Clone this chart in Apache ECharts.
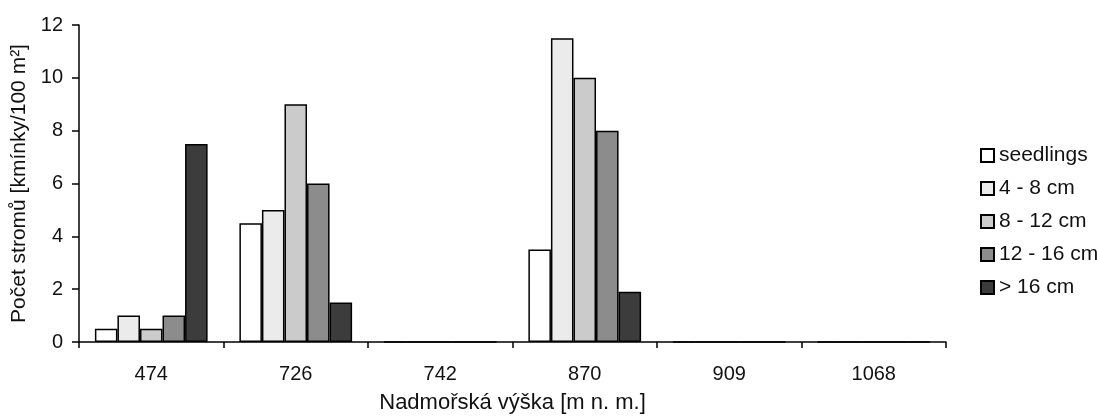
<!DOCTYPE html>
<html><head><meta charset="utf-8">
<script src="https://cdn.jsdelivr.net/npm/echarts@6/dist/echarts.min.js"></script>
<style>html,body{margin:0;padding:0;background:#fff}#c{width:1097px;height:419px}</style>
</head><body><div id="c"></div>
<script>
const categories = ['474', '726', '742', '870', '909', '1068'];
const seriesNames = ['seedlings', '4 - 8 cm', '8 - 12 cm', '12 - 16 cm', '> 16 cm'];
const seedlings = [0.5, 4.5, 0, 3.5, 0, 0];
const cm4to8 = [1.0, 5.0, 0, 11.5, 0, 0];
const cm8to12 = [0.5, 9.0, 0, 10.0, 0, 0];
const cm12to16 = [1.0, 6.0, 0, 8.0, 0, 0];
const cmOver16 = [7.5, 1.5, 0, 1.9, 0, 0];
const yTicks = [0, 2, 4, 6, 8, 10, 12];
const colors = ['#ffffff', '#ebebeb', '#cbcbcb', '#8c8c8c', '#3c3c3c'];
const seriesData = [seedlings, cm4to8, cm8to12, cm12to16, cmOver16];

const font = 'Liberation Sans, Arial, sans-serif';
const chart = echarts.init(document.getElementById('c'));
chart.setOption({
  animation: false,
  backgroundColor: '#fff',
  grid: { left: 79, right: 151, top: 25, bottom: 75 },
  legend: {
    orient: 'vertical', left: 975, top: 140,
    itemWidth: 13, itemHeight: 13, itemGap: 12,
    icon: 'rect',
    textStyle: { fontFamily: font, fontSize: 21, color: '#111' },
    data: seriesNames
  },
  xAxis: {
    type: 'category', data: categories,
    name: 'Nadmořská výška [m n. m.]', nameLocation: 'middle', nameGap: 50,
    nameTextStyle: { fontFamily: font, fontSize: 22, color: '#111' },
    axisLine: { lineStyle: { color: '#000', width: 1.5 } },
    axisTick: { show: true, length: 6, lineStyle: { color: '#000', width: 1.5 } },
    axisLabel: { fontFamily: font, fontSize: 20, color: '#111', margin: 22 },
    boundaryGap: true
  },
  yAxis: {
    type: 'value', min: 0, max: 12, interval: 2,
    name: 'Počet stromů [kmínky/100 m²]', nameLocation: 'middle', nameGap: 45,
    nameTextStyle: { fontFamily: font, fontSize: 21, color: '#111' },
    axisLine: { show: true, lineStyle: { color: '#000', width: 1.5 } },
    axisTick: { show: true, length: 7, lineStyle: { color: '#000', width: 1.5 } },
    axisLabel: { fontFamily: font, fontSize: 20, color: '#111', margin: 16,
      formatter: v => yTicks.includes(v) ? String(v) : '' },
    splitLine: { show: false }
  },
  series: seriesNames.map((n, i) => ({
    name: n, type: 'bar', data: seriesData[i],
    barGap: '0%', barCategoryGap: '22%',
    itemStyle: { color: colors[i], borderColor: '#000', borderWidth: 1.5 }
  }))
});
</script></body></html>
